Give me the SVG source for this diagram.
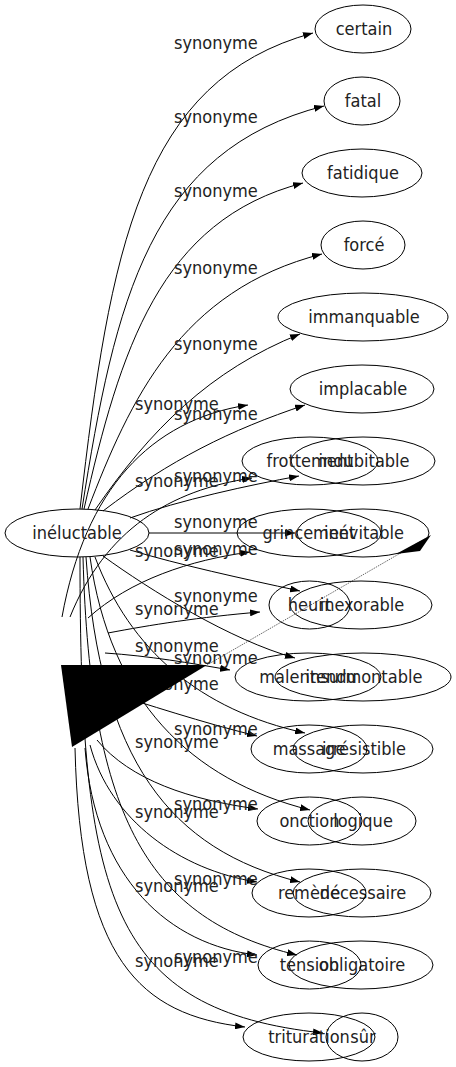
<svg xmlns="http://www.w3.org/2000/svg" width="456" height="1067" viewBox="0 0 456 1067">
<style>
text{font-family:"DejaVu Sans Condensed","DejaVu Sans",sans-serif;font-size:18px;fill:#222}
.n text{text-anchor:middle}
ellipse{fill:none;stroke:#000;stroke-width:1}
.e path{fill:none;stroke:#000;stroke-width:1;marker-end:url(#ah)}
</style>
<defs>
<marker id="ah" markerUnits="userSpaceOnUse" markerWidth="10" markerHeight="7" refX="10" refY="3.5" orient="auto">
<path d="M0,0 L10,3.5 L0,7 z" fill="#000"/>
</marker>
</defs>
<rect width="456" height="1067" fill="#fff"/>
<g id="connectors" class="e">
<path d="M80,509 C110,250 140,80 313,33"/>
<path d="M82,509 C115,300 150,150 324,106"/>
<path d="M84,509 C120,350 160,220 303,183"/>
<path d="M88,509 C130,400 180,290 322,254"/>
<path d="M95,510 C150,430 210,370 300,334"/>
<path d="M103,511 C170,460 230,430 305,405"/>
<path d="M130,518 C180,500 250,485 299,476"/>
<path d="M149,533 L295,533"/>
<path d="M130,550 C180,565 240,578 300,591"/>
<path d="M103,556 C150,590 230,640 295,658"/>
<path d="M95,557 C130,650 200,710 305,733"/>
<path d="M90,557 C110,700 190,780 310,810"/>
<path d="M86,557 C100,760 170,850 300,882"/>
<path d="M83,557 C90,820 150,920 297,955"/>
<path d="M80,557 C80,900 110,1010 323,1033"/>
<path d="M62,617 C85,490 150,420 248,405"/>
<path d="M70,617 C105,530 170,490 252,478"/>
<path d="M88,618 C130,580 190,560 250,552"/>
<path d="M108,633 C150,625 200,617 260,612"/>
<path d="M105,653 C150,656 190,663 230,670"/>
<path d="M100,690 C150,705 200,722 257,736"/>
<path d="M97,740 C130,780 190,800 258,809"/>
<path d="M90,745 C110,820 180,870 257,882"/>
<path d="M85,748 C95,880 170,945 257,955"/>
<path d="M75,748 C80,960 140,1015 245,1027"/>
</g>
<g id="edge-labels">
<text x="174" y="49">synonyme</text>
<text x="174" y="123">synonyme</text>
<text x="174" y="197">synonyme</text>
<text x="174" y="274">synonyme</text>
<text x="174" y="350">synonyme</text>
<text x="174" y="420">synonyme</text>
<text x="174" y="482">synonyme</text>
<text x="174" y="528">synonyme</text>
<text x="174" y="555">synonyme</text>
<text x="174" y="602">synonyme</text>
<text x="174" y="664">synonyme</text>
<text x="174" y="735">synonyme</text>
<text x="174" y="810">synonyme</text>
<text x="174" y="885">synonyme</text>
<text x="174" y="963">synonyme</text>
<text x="135" y="410">synonyme</text>
<text x="135" y="487">synonyme</text>
<text x="135" y="557">synonyme</text>
<text x="135" y="615">synonyme</text>
<text x="135" y="652">synonyme</text>
<text x="135" y="690">synonyme</text>
<text x="135" y="748">synonyme</text>
<text x="135" y="818">synonyme</text>
<text x="135" y="892">synonyme</text>
<text x="135" y="967">synonyme</text>
</g>
<g id="n-ineluctable" class="n"><ellipse cx="77" cy="533" rx="72" ry="24"/><text x="77" y="539">inéluctable</text></g>
<g id="n-certain" class="n"><ellipse cx="363" cy="29" rx="48" ry="24"/><text x="364" y="35">certain</text></g>
<g id="n-fatal" class="n"><ellipse cx="362" cy="101" rx="38" ry="24"/><text x="363" y="107">fatal</text></g>
<g id="n-fatidique" class="n"><ellipse cx="362" cy="173" rx="60" ry="24"/><text x="363" y="179">fatidique</text></g>
<g id="n-force" class="n"><ellipse cx="363" cy="245" rx="42" ry="24"/><text x="364" y="251">forcé</text></g>
<g id="n-immanquable" class="n"><ellipse cx="363" cy="317" rx="85" ry="24"/><text x="364" y="323">immanquable</text></g>
<g id="n-implacable" class="n"><ellipse cx="362" cy="389" rx="72" ry="24"/><text x="363" y="395">implacable</text></g>
<g id="n-indubitable" class="n"><ellipse cx="363" cy="461" rx="72" ry="24"/><text x="364" y="467">indubitable</text></g>
<g id="n-inevitable" class="n"><ellipse cx="363" cy="533" rx="66" ry="24"/><text x="364" y="539">inévitable</text></g>
<g id="n-inexorable" class="n"><ellipse cx="361" cy="605" rx="71" ry="24"/><text x="362" y="611">inexorable</text></g>
<g id="n-insurmontable" class="n"><ellipse cx="363" cy="677" rx="88" ry="24"/><text x="364" y="683">insurmontable</text></g>
<g id="n-irresistible" class="n"><ellipse cx="363" cy="749" rx="70" ry="24"/><text x="364" y="755">irrésistible</text></g>
<g id="n-logique" class="n"><ellipse cx="362" cy="821" rx="54" ry="24"/><text x="363" y="827">logique</text></g>
<g id="n-necessaire" class="n"><ellipse cx="362" cy="893" rx="69" ry="24"/><text x="363" y="899">nécessaire</text></g>
<g id="n-obligatoire" class="n"><ellipse cx="361" cy="965" rx="72" ry="24"/><text x="362" y="971">obligatoire</text></g>
<g id="n-sur" class="n"><ellipse cx="362" cy="1037" rx="36" ry="24"/><text x="363" y="1043">sûr</text></g>
<g id="n-frottement" class="n"><ellipse cx="310" cy="461" rx="68" ry="24"/><text x="310" y="467">frottement</text></g>
<g id="n-grincement" class="n"><ellipse cx="309" cy="533" rx="72" ry="24"/><text x="309" y="539">grincement</text></g>
<g id="n-heurt" class="n"><ellipse cx="309.5" cy="605" rx="40.5" ry="24"/><text x="309.5" y="611">heurt</text></g>
<g id="n-malentendu" class="n"><ellipse cx="308" cy="677" rx="73" ry="24"/><text x="308" y="683">malentendu</text></g>
<g id="n-massage" class="n"><ellipse cx="309" cy="749" rx="58" ry="24"/><text x="309" y="755">massage</text></g>
<g id="n-onction" class="n"><ellipse cx="309.5" cy="821" rx="52.5" ry="24"/><text x="309.5" y="827">onction</text></g>
<g id="n-remede" class="n"><ellipse cx="309" cy="893" rx="57" ry="24"/><text x="309" y="899">remède</text></g>
<g id="n-tension" class="n"><ellipse cx="309.5" cy="965" rx="51.5" ry="24"/><text x="309.5" y="971">tension</text></g>
<g id="n-trituration" class="n"><ellipse cx="309" cy="1037" rx="66" ry="24"/><text x="309" y="1043">trituration</text></g>
<g id="artifacts">
<polygon points="61,665 207,665 72,747" fill="#000"/>
<path d="M207,665 L430,536" fill="none" stroke="#000" stroke-width="0.6" stroke-dasharray="1.5,1"/>
<polygon points="396,554 431,535 420,551" fill="#000"/>
</g>
</svg>
